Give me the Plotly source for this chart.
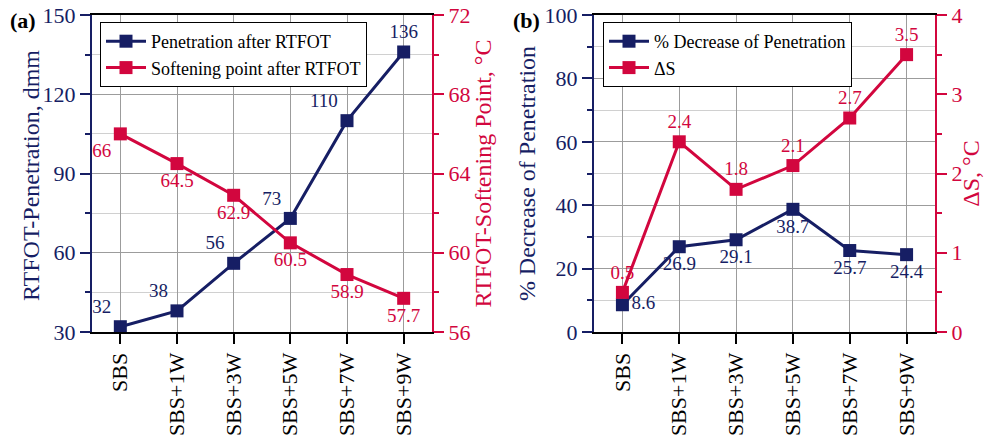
import plotly.graph_objects as go

categories = ["SBS", "SBS+1W", "SBS+3W", "SBS+5W", "SBS+7W", "SBS+9W"]
penetration = [32, 38, 56, 73, 110, 136]
softening = [66, 64.5, 62.9, 60.5, 58.9, 57.7]
pct_decrease = [8.6, 26.9, 29.1, 38.7, 25.7, 24.4]
delta_s = [0.5, 2.4, 1.8, 2.1, 2.7, 3.5]

NAVY = "#161e64"
RED = "#d2063e"
FONT = "Liberation Serif, Times New Roman, serif"
OFF = 8  # page body margin of the browser
W, H = 992 - 2 * OFF, 446 - 2 * OFF
LBL = 19


def fx(p):
    return (p - OFF) / W


def fy(p):
    return 1 - (p - OFF) / H


fig = go.Figure()

mk = dict(symbol="square", size=13)
fig.add_trace(go.Scatter(
    x=categories, y=penetration, mode="lines+markers+text",
    name="Penetration after RTFOT", xaxis="x", yaxis="y",
    line=dict(color=NAVY, width=3), marker=dict(color=NAVY, **mk),
    text=[str(v) for v in penetration],
    textposition=["top left"] * 5 + ["top center"],
    textfont=dict(color=NAVY, size=LBL, family=FONT), legend="legend",
))
fig.add_trace(go.Scatter(
    x=categories, y=softening, mode="lines+markers+text",
    name="Softening point after RTFOT", xaxis="x", yaxis="y2",
    line=dict(color=RED, width=3), marker=dict(color=RED, **mk),
    text=[str(v) for v in softening],
    textposition=["bottom left"] + ["bottom center"] * 5,
    textfont=dict(color=RED, size=LBL, family=FONT), legend="legend",
))
fig.add_trace(go.Scatter(
    x=categories, y=pct_decrease, mode="lines+markers+text",
    name="% Decrease of Penetration", xaxis="x2", yaxis="y3",
    line=dict(color=NAVY, width=3), marker=dict(color=NAVY, **mk),
    text=[str(v) for v in pct_decrease],
    textposition=["middle right"] + ["bottom center"] * 5,
    textfont=dict(color=NAVY, size=LBL, family=FONT), legend="legend2",
))
fig.add_trace(go.Scatter(
    x=categories, y=delta_s, mode="lines+markers+text",
    name="ΔS", xaxis="x2", yaxis="y4",
    line=dict(color=RED, width=3), marker=dict(color=RED, **mk),
    text=[str(v) for v in delta_s],
    textposition=["top center"] * 6,
    textfont=dict(color=RED, size=LBL, family=FONT), legend="legend2",
))

ydom = [fy(332), fy(15)]
GRID = "#9c9c9c"
MINOR_GRID = "#d0d0d0"
TICK = 22
TITLE = 24


def xax(dom, anchor):
    return dict(
        domain=dom, anchor=anchor, type="category", range=[-0.5, 5.5],
        showline=True, linecolor="black", linewidth=2, mirror=True,
        ticks="outside", ticklen=10, tickwidth=2, tickcolor="black",
        tickangle=-90, tickfont=dict(size=TICK, color="black", family=FONT),
        showgrid=True, gridcolor=GRID, gridwidth=1, zeroline=False,
        automargin=False, ticklabeloverflow="allow",
    )


def yleft(rng, dt, mdt, title, anchor):
    t = dict(text=title, font=dict(size=TITLE, color=NAVY, family=FONT),
             standoff=2) if title else None
    d = dict(
        domain=ydom, anchor=anchor, range=rng, dtick=dt, tick0=rng[0],
        showline=True, linecolor=NAVY, linewidth=2,
        ticks="outside", ticklen=10, tickwidth=2, tickcolor=NAVY,
        tickfont=dict(size=TICK, color=NAVY, family=FONT),
        showgrid=True, gridcolor=GRID, gridwidth=1, zeroline=False,
        minor=dict(dtick=mdt, tick0=rng[0], ticks="outside", ticklen=5,
                   tickwidth=2, tickcolor=NAVY, showgrid=True,
                   gridcolor=MINOR_GRID, gridwidth=1),
        automargin=False, ticklabeloverflow="allow",
    )
    if t:
        d["title"] = t
    return d


def yright(rng, dt, mdt, title, anchor, over):
    return dict(
        domain=ydom, anchor=anchor, overlaying=over, side="right",
        range=rng, dtick=dt, tick0=rng[0],
        showline=True, linecolor=RED, linewidth=2,
        ticks="outside", ticklen=10, tickwidth=2, tickcolor=RED,
        tickfont=dict(size=TICK, color=RED, family=FONT),
        showgrid=False, zeroline=False,
        minor=dict(dtick=mdt, tick0=rng[0], ticks="outside", ticklen=5,
                   tickwidth=2, tickcolor=RED, showgrid=False),
        title=dict(text=title, font=dict(size=TITLE, color=RED, family=FONT),
                   standoff=2),
        automargin=False, ticklabeloverflow="allow",
    )


legend_common = dict(
    bgcolor="white", bordercolor="black", borderwidth=1,
    font=dict(size=18, color="black", family=FONT),
    xanchor="left", yanchor="top", itemwidth=40, tracegroupgap=0,
)

fig.update_layout(
    width=W, height=H,
    margin=dict(l=0, r=0, t=0, b=0, autoexpand=False),
    paper_bgcolor="white", plot_bgcolor="white",
    font=dict(family=FONT),
    xaxis=xax([fx(92), fx(432)], "y"),
    xaxis2=xax([fx(594), fx(935)], "y3"),
    yaxis=yleft([30, 150], 30, 15, None, "x"),
    yaxis2=yright([56, 72], 4, 2, "RTFOT-Softening Point, °C", "x", "y"),
    yaxis3=yleft([0, 100], 20, 10, "% Decrease of Penetration", "x2"),
    yaxis4=yright([0, 4], 1, 0.5, "ΔS, °C", "x2", "y3"),
    legend=dict(x=fx(100), y=fy(22), **legend_common),
    legend2=dict(x=fx(603), y=fy(22), **legend_common),
    annotations=[
        dict(text="RTFOT-Penetration, dmm", x=fx(31), y=fy(176),
             xref="paper", yref="paper", xanchor="center", yanchor="middle",
             textangle=-90, showarrow=False,
             font=dict(size=TITLE, color=NAVY, family=FONT)),
        dict(text="<b>(a)</b>", x=fx(8), y=fy(21), xref="paper", yref="paper",
             xanchor="left", yanchor="middle", showarrow=False,
             font=dict(size=22, color="black", family=FONT)),
        dict(text="<b>(b)</b>", x=fx(511), y=fy(21), xref="paper", yref="paper",
             xanchor="left", yanchor="middle", showarrow=False,
             font=dict(size=22, color="black", family=FONT)),
    ],
    showlegend=True,
)

fig.write_html("out.html")
